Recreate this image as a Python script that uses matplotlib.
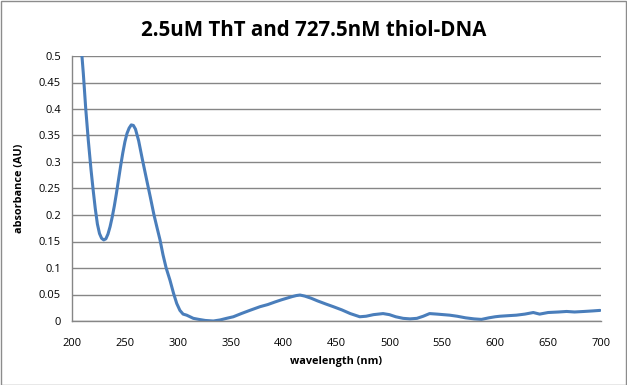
import matplotlib.pyplot as plt
from matplotlib.ticker import FuncFormatter, MultipleLocator
from matplotlib.patches import Rectangle

# values
wavelength = [205, 207, 209, 210.7, 213, 215.4, 218, 220, 222, 224, 226, 228, 230, 232,
              234, 236, 238, 240, 242, 244, 246, 248, 250, 252, 254, 256, 258, 260, 263, 266.5,
              270.6, 274, 277.5, 280.5, 283.2, 286, 289, 292.6, 296, 299, 302, 305, 308.4,
              314.7, 320, 326, 333.6, 340, 346, 352.5, 360, 368, 377.7, 385, 392, 398, 403,
              408, 412, 415.5, 420, 426, 432, 440, 447, 455, 463, 472, 478, 485, 494, 500,
              506, 513, 519.5, 526, 532, 538, 545, 551, 557, 564, 572, 580, 587, 594, 600,
              604.5, 612, 620, 628, 636, 642, 650, 660, 667.5, 675, 684, 692, 699]
absorbance = [0.62, 0.56, 0.51, 0.467, 0.40, 0.341, 0.285, 0.247, 0.212, 0.183, 0.165, 0.156,
              0.153, 0.155, 0.164, 0.178, 0.196, 0.217, 0.241, 0.267, 0.293, 0.317, 0.338,
              0.354, 0.364, 0.370, 0.369, 0.362, 0.340, 0.305, 0.266, 0.234, 0.200, 0.175,
              0.153, 0.125, 0.100, 0.077, 0.052, 0.033, 0.020, 0.013, 0.011, 0.005, 0.003,
              0.001, 0.0, 0.002, 0.005, 0.008, 0.014, 0.020, 0.027, 0.031, 0.036, 0.040,
              0.043, 0.046, 0.048, 0.049, 0.047, 0.043, 0.038, 0.032, 0.027, 0.021, 0.014,
              0.008, 0.009, 0.012, 0.014, 0.012, 0.008, 0.005, 0.004, 0.005, 0.009, 0.014,
              0.013, 0.012, 0.011, 0.009, 0.006, 0.004, 0.003, 0.006, 0.008, 0.009, 0.010,
              0.011, 0.013, 0.016, 0.013, 0.016, 0.017, 0.018, 0.017, 0.018, 0.019, 0.020]

x_ticks = list(range(200, 701, 50))

FONT = ['Open Sans', 'DejaVu Sans']
GRID = '#868686'


def main():
    fig = plt.figure(figsize=(6.27, 3.85), dpi=100)
    fig.patches.append(Rectangle((0.001, 0.001), 0.997, 0.997, transform=fig.transFigure,
                                 fill=False, edgecolor='#8c8c8c', linewidth=1))
    ax = fig.add_axes([72 / 627, 1 - 321 / 385, 529 / 627, 265 / 385])

    ax.plot(wavelength, absorbance, color='#4a7ebb', linewidth=2.2, solid_capstyle='round',
            solid_joinstyle='round', clip_on=True)

    ax.set_xlim(200, 700)
    ax.set_ylim(0, 0.5)
    ax.set_xticks(x_ticks)
    ax.yaxis.set_major_locator(MultipleLocator(0.05))
    ax.yaxis.set_major_formatter(FuncFormatter(lambda v, p: '%g' % round(v, 2)))
    ax.grid(axis='y', color=GRID, linewidth=1)
    ax.set_axisbelow(True)
    for side in ['top', 'right']:
        ax.spines[side].set_visible(False)
    for side in ['left', 'bottom']:
        ax.spines[side].set_color(GRID)
        ax.spines[side].set_linewidth(1)
    ax.tick_params(axis='y', length=0, labelsize=8, pad=8)
    ax.tick_params(axis='x', length=0, labelsize=8, pad=12)
    for lab in ax.get_xticklabels() + ax.get_yticklabels():
        lab.set_family(FONT)

    ax.set_xlabel('wavelength (nm)', fontsize=7.8, fontweight='bold', family=FONT, labelpad=5)
    ax.set_ylabel('absorbance (AU)', fontsize=7.8, fontweight='bold', family=FONT, labelpad=10)
    fig.text(0.5, 0.922, '2.5uM ThT and 727.5nM thiol-DNA', ha='center', va='center',
             fontsize=14.8, fontweight='bold', family=FONT)

    fig.savefig('out.png', dpi=100)
    plt.close(fig)


if __name__ == '__main__':
    main()
